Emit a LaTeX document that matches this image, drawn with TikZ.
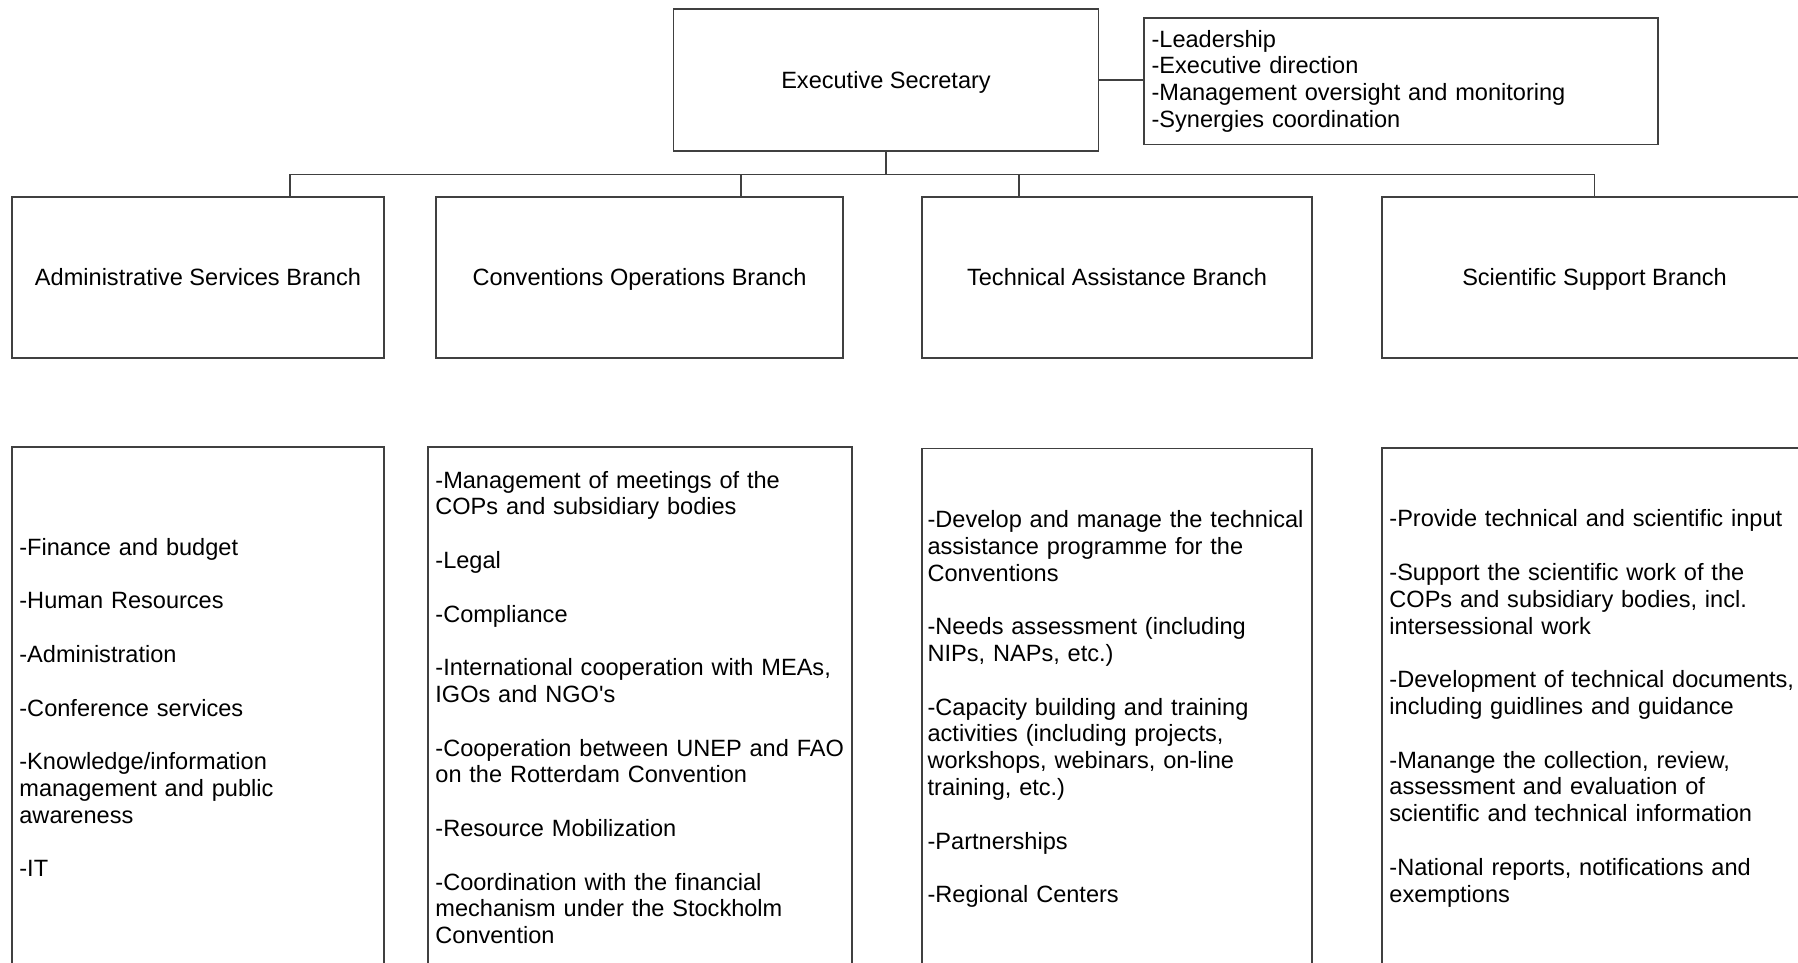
\documentclass[tikz,border=0pt]{standalone}
\usepackage{fontspec}
\setmainfont{Liberation Sans}[Ligatures=TeXOff]
\usetikzlibrary{calc,positioning}

\newcommand{\gap}{\\[13.4pt]}
\hyphenpenalty=10000
\exhyphenpenalty=10000

\begin{document}
\begin{tikzpicture}[x=0.5pt,y=-0.5pt]
\tikzstyle{unit}=[draw=black!75,line width=0.7pt,inner sep=0pt,font=\fontsize{11.78}{13.4}\selectfont]
\tikzstyle{branch}=[unit,minimum height=80.5pt,text height=10pt,text depth=1.6pt,align=center]
\tikzstyle{tasks}=[unit,minimum height=260.5pt,inner xsep=3.7pt,align=left]
\tikzstyle{link}=[draw=black!75,line width=0.7pt]

    \clip (0,0) rectangle (1798,963);

    %head of the secretariat
    \node (exec) at (886,80) [branch,minimum width=212.25pt,minimum height=71pt] {Executive Secretary};
    \node (duties) [tasks,anchor=west,minimum height=63pt,text width=249.6pt,right=22.25pt of exec.east,yshift=-0.6pt] {-Leadership\\-Executive direction\\-Management oversight and monitoring\\-Synergies coordination};

    %the four branches
    \node (admin) at (198,277.5) [branch,minimum width=186pt] {Administrative Services Branch};
    \node (conv) at (639.5,277.5) [branch,minimum width=203.5pt] {Conventions Operations Branch};
    \node (tech) at (1117,277.5) [branch,minimum width=195pt] {Technical Assistance Branch};
    \node (sci) at (1594.5,277.5) [branch,minimum width=212.5pt] {Scientific Support Branch};

    %what each branch does
    \node (admin_tasks) at (198,707.5) [tasks,text width=178.6pt] {-Finance and budget\gap-Human Resources\gap-Administration\gap-Conference services\gap-Knowledge/information\\management and public\\awareness\gap-IT};
    \node (conv_tasks) at (640,707.5) [tasks,text width=204.6pt] {-Management of meetings of the\\COPs and subsidiary bodies\gap-Legal\gap-Compliance\gap-International cooperation with MEAs,\\IGOs and NGO's\gap-Cooperation between UNEP and FAO\\on the Rotterdam Convention\gap-Resource Mobilization\gap-Coordination with the financial\\mechanism under the Stockholm\\Convention};
    \node (tech_tasks) at (1117,709) [tasks,inner xsep=2.8pt,text width=189.4pt] {-Develop and manage the technical\\assistance programme for the\\Conventions\gap-Needs assessment (including\\NIPs, NAPs, etc.)\gap-Capacity building and training\\activities (including projects,\\workshops, webinars, on-line\\training, etc.)\gap-Partnerships\gap-Regional Centers};
    \node (sci_tasks) at (1594.5,708.5) [tasks,text width=205.1pt] {-Provide technical and scientific input\gap-Support the scientific work of the\\COPs and subsidiary bodies, incl.\\intersessional work\gap-Development of technical documents,\\including guidlines and guidance\gap-Manange the collection, review,\\assessment and evaluation of\\scientific and technical information\gap-National reports, notifications and\\exemptions};

    %connectors
    \coordinate (bus) at ($(exec.south)+(0,23)$);
    \coordinate (admin_drop) at ($(admin.north)+(92,0)$);
    \coordinate (conv_drop) at ($(conv.north)+(101.5,0)$);
    \coordinate (tech_drop) at ($(tech.north)+(-98,0)$);
    \coordinate (sci_drop) at (sci.north);

    \draw[link] (exec.east) -- (exec.east -| duties.west);
    \draw[link] (exec.south) -- (bus);
    \draw[link] (admin_drop) |- (bus) -| (sci_drop);
    \draw[link] (conv_drop) -- (conv_drop |- bus);
    \draw[link] (tech_drop) -- (tech_drop |- bus);

\end{tikzpicture}
\end{document}
